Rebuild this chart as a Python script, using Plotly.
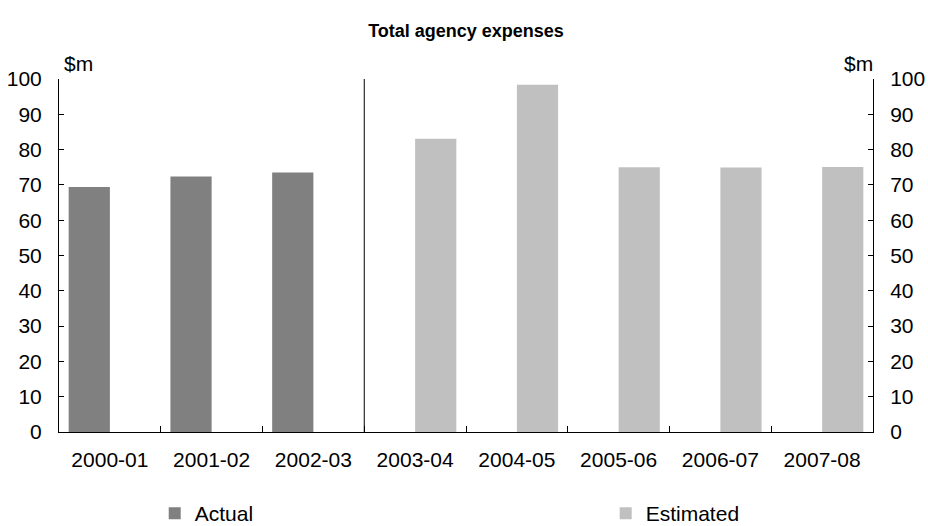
import plotly.graph_objects as go

categories = ["2000-01", "2001-02", "2002-03", "2003-04", "2004-05", "2005-06", "2006-07", "2007-08"]
actual = [69.4, 72.4, 73.5, None, None, None, None, None]
estimated = [None, None, None, 83.1, 98.4, 75.0, 74.9, 75.1]
y_ticks = [0, 10, 20, 30, 40, 50, 60, 70, 80, 90, 100]

FONT = "Liberation Sans, Arial, sans-serif"
TICK = 21

fig = go.Figure()
fig.add_trace(go.Bar(x=categories, y=actual, name="Actual", legend="legend",
                     marker=dict(color="#808080", line=dict(width=0))))
fig.add_trace(go.Bar(x=categories, y=estimated, name="Estimated", legend="legend2",
                     marker=dict(color="#C0C0C0", line=dict(width=0))))
# invisible trace to carry the right-hand axis
fig.add_trace(go.Scatter(x=categories, y=actual, yaxis="y2", mode="markers",
                         marker=dict(opacity=0), showlegend=False, hoverinfo="skip"))

axis_common = dict(range=[0, 100], tickvals=y_ticks, ticks="inside", ticklen=5,
                   tickcolor="black", showline=True, linecolor="black", linewidth=1,
                   showgrid=False, zeroline=False,
                   tickfont=dict(family=FONT, size=TICK, color="black"))

legend_common = dict(orientation="h", yref="paper", y=-0.231, yanchor="middle",
                     xanchor="left", bgcolor="rgba(0,0,0,0)", borderwidth=0,
                     font=dict(family=FONT, size=TICK, color="black"))

fig.update_layout(
    width=928, height=526,
    margin=dict(l=59, r=55, t=79, b=94, autoexpand=False),
    paper_bgcolor="white", plot_bgcolor="white",
    font=dict(family=FONT, color="black"),
    barmode="group", bargap=0.19, bargroupgap=0,
    title=dict(text="<b>Total agency expenses</b>", xref="paper", x=0.5, xanchor="center",
               y=1 - 31 / 526, yanchor="middle",
               font=dict(family=FONT, size=18, color="black")),
    xaxis=dict(type="category", tickson="boundaries", ticks="inside", ticklen=6,
               tickcolor="black", showline=True, linecolor="black", linewidth=1,
               showgrid=False, ticklabelstandoff=9,
               tickfont=dict(family=FONT, size=TICK, color="black")),
    yaxis=dict(**axis_common, side="left", ticklabelstandoff=12),
    yaxis2=dict(**axis_common, side="right", overlaying="y", ticklabelstandoff=12),
    legend=dict(**legend_common, x=0.1176),
    legend2=dict(**legend_common, x=0.6716),
    shapes=[dict(type="line", xref="x", yref="y", x0=2.5, x1=2.5, y0=0, y1=100,
                 line=dict(color="black", width=1))],
    annotations=[
        dict(text="$m", xref="paper", yref="y", x=0, y=100, xanchor="left",
             yanchor="middle", xshift=3, yshift=16, showarrow=False,
             font=dict(family=FONT, size=TICK, color="black")),
        dict(text="$m", xref="paper", yref="y", x=1, y=100, xanchor="right",
             yanchor="middle", xshift=2, yshift=16, showarrow=False,
             font=dict(family=FONT, size=TICK, color="black")),
    ],
)

fig.write_html("out.html", config={"displayModeBar": False},
               post_script="document.body.style.margin='0px';")
